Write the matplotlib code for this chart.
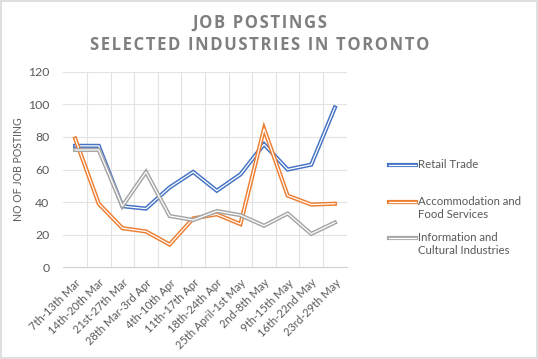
from matplotlib import pyplot as plt
from matplotlib.lines import Line2D
import matplotlib.patheffects as pe
import numpy as np

plt.rcParams['font.family'] = ['Lato', 'DejaVu Sans']

# Data
weeks = ["7th-13th Mar", "14th-20th Mar", "21st-27th Mar", "28th Mar-3rd Apr",
         "4th-10th Apr", "11th-17th Apr", "18th-24th Apr", "25th April-1st May",
         "2nd-8th May", "9th-15th May", "16th-22nd May", "23rd-29th May"]
retail = [74.5, 74.5, 37.5, 36, 49, 58.5, 47, 57, 75.5, 60, 63, 98]
accommodation = [79, 39, 24, 22, 14, 30, 32.5, 26.5, 85, 44, 38.5, 39]
information = [72, 72, 37.5, 58.5, 31.5, 29, 34.5, 32, 25.5, 33, 20.5, 27.5]

names = ["Retail Trade", "Accommodation and\nFood Services",
         "Information and\nCultural Industries"]
colors = ["#4472C4", "#ED7D31", "#A5A5A5"]
values = [retail, accommodation, information]

TXT = "#595959"
W, H = 538, 359

# compound (double) line look, like the Excel chart
double = [pe.Normal(), pe.Stroke(linewidth=0.9, foreground="white")]

fig = plt.figure(figsize=(5.38, 3.59), dpi=100)
ax = fig.add_axes([0.1177, 0.2554, 0.5267, 0.5449])

x = np.arange(len(weeks))
for name, vals, col in zip(names, values, colors):
    ax.plot(x, vals, color=col, lw=3.0, label=name, solid_joinstyle="miter",
            path_effects=double)

ax.set_xlim(-0.5, len(weeks) - 0.5)
ax.set_ylim(0, 120)
ax.set_yticks(range(0, 121, 20))
ax.set_xticks(x)
ax.set_xticklabels(weeks, rotation=45, ha="right", rotation_mode="anchor",
                   fontsize=8.0, color=TXT)
ax.tick_params(axis="y", labelsize=8.8, colors=TXT, length=0, pad=10)
ax.tick_params(axis="x", length=0, pad=7)

# gridlines: horizontal at ticks, vertical at category boundaries
for v in range(20, 121, 20):
    ax.axhline(v, color="#E3E3E3", lw=0.8, zorder=0)
for b in np.arange(0.5, len(weeks) - 0.5, 1):
    ax.axvline(b, color="#E3E3E3", lw=0.8, zorder=0)
for s in ["top", "right", "left"]:
    ax.spines[s].set_visible(False)
ax.spines["bottom"].set_color("#D0D0D0")
ax.spines["bottom"].set_linewidth(0.8)

ax.set_ylabel("NO OF JOB POSTING", fontsize=7.6, color=TXT)
ax.yaxis.set_label_coords(-0.139, 0.5)

title_font = ['Open Sans', 'DejaVu Sans']
fig.text(0.483, 0.938, "\u200a".join("JOB POSTINGS"), ha="center", va="center",
         fontsize=12, fontweight="bold", color="#7F7F7F", family=title_font)
fig.text(0.483, 0.874, "\u200a".join("SELECTED INDUSTRIES IN TORONTO"), ha="center",
         va="center", fontsize=12, fontweight="bold", color="#7F7F7F", family=title_font)

# legend drawn by hand: handle sits on the first text line
leg_y = [165, 202, 238]
for name, col, yp in zip(names, colors, leg_y):
    yf = 1 - yp / H
    fig.add_artist(Line2D([389 / W, 416 / W], [yf, yf], color=col, lw=3.0,
                          transform=fig.transFigure, path_effects=double))
    fig.text(418 / W, 1 - (yp - 6) / H, name, ha="left", va="top",
             fontsize=8.2, color=TXT, linespacing=1.25)

# outer chart border
fig.patches.append(plt.Rectangle((0.002, 0.003), 0.996, 0.994, transform=fig.transFigure,
                                 fill=False, edgecolor="#D9D9D9", lw=1.2))

fig.savefig("out.png", dpi=100)
